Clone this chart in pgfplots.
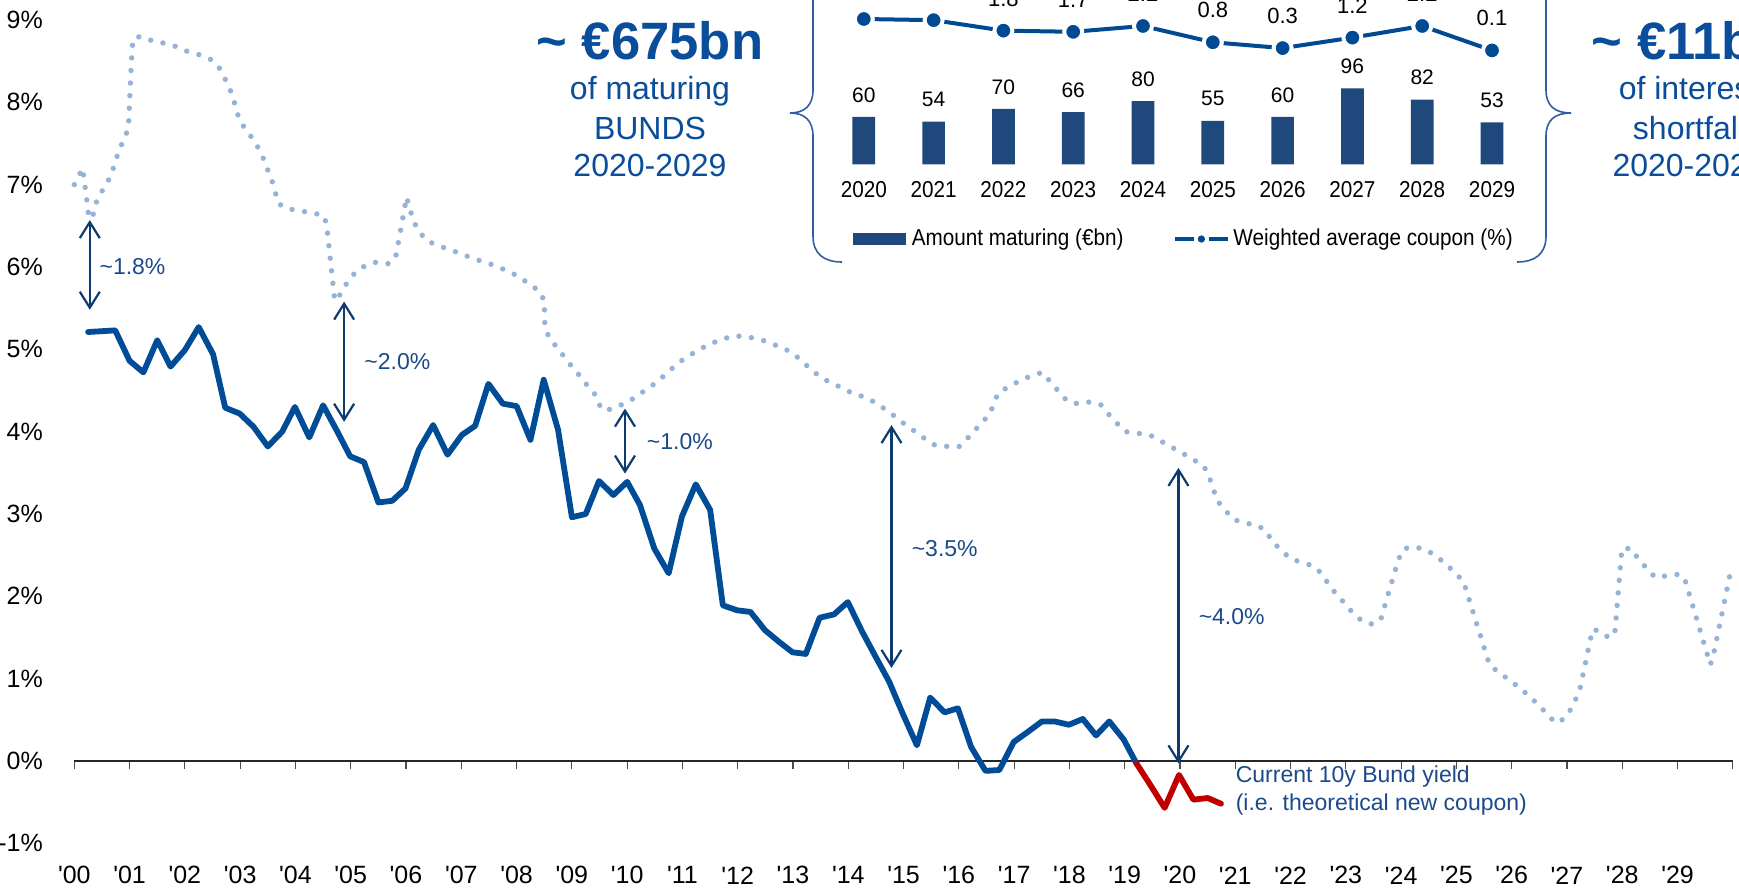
\documentclass[border=0pt]{standalone}
\usepackage{pgfplots}
\pgfplotsset{compat=1.18}
\usepackage{fontspec}
\setmainfont{Liberation Sans}
\newfontfamily\narrowfont[FakeStretch=0.9]{Liberation Sans}
\usetikzlibrary{arrows.meta}
\definecolor{bundblue}{HTML}{004C97}
\definecolor{bundred}{HTML}{C00000}
\definecolor{dotblue}{HTML}{95B3D7}
\definecolor{arrowblue}{HTML}{0D3B70}
\definecolor{annblue}{HTML}{1B4A8A}
\definecolor{bigblue}{HTML}{0A4D9B}
\definecolor{barblue}{HTML}{1F497D}
\definecolor{lineblue}{HTML}{004A93}
\definecolor{braceblue}{HTML}{2F5E9E}
\begin{document}
\begin{tikzpicture}
\path[use as bounding box] (0,0) rectangle (869.5pt,444.5pt);
\clip (0,0) rectangle (869.5pt,444.5pt);
% ---------------- main chart ----------------
\begin{axis}[
  at={(37.15pt,22.85pt)}, anchor=south west,
  scale only axis, width=829.35pt, height=411.65pt,
  xmin=2000, xmax=2030, ymin=-1, ymax=9,
  axis x line=middle, axis y line=left,
  hide obscured x ticks=false, hide obscured y ticks=false,
  x axis line style={-, black!85, line width=0.7pt},
  y axis line style={draw=none},
  tick align=outside, major tick length=4.2pt,
  xtick={2000,...,2030},
  xticklabels={\textquotesingle 00,\textquotesingle 01,\textquotesingle 02,\textquotesingle 03,\textquotesingle 04,\textquotesingle 05,\textquotesingle 06,\textquotesingle 07,\textquotesingle 08,\textquotesingle 09,\textquotesingle 10,\textquotesingle 11,\textquotesingle 12,\textquotesingle 13,\textquotesingle 14,\textquotesingle 15,\textquotesingle 16,\textquotesingle 17,\textquotesingle 18,\textquotesingle 19,\textquotesingle 20,\textquotesingle 21,\textquotesingle 22,\textquotesingle 23,\textquotesingle 24,\textquotesingle 25,\textquotesingle 26,\textquotesingle 27,\textquotesingle 28,\textquotesingle 29,{}},
  xtick style={black!70, line width=0.6pt},
  ytick={-1,0,1,2,3,4,5,6,7,8,9},
  yticklabels={-1\%,0\%,1\%,2\%,3\%,4\%,5\%,6\%,7\%,8\%,9\%},
  ytick style={draw=none},
  tick label style={font=\fontsize{12.5}{14}\selectfont, text=black},
  xticklabel style={anchor=center, yshift=-53pt},
  yticklabel style={anchor=east, xshift=-8pt},
  clip=false,
]
\addplot[dotblue, mark=none, line width=2.7pt, line cap=round, line join=round, dash pattern=on 0pt off 6.3pt] coordinates {
(2000.00,7.00) (2000.09,7.12) (2000.15,7.20) (2000.18,7.05) (2000.21,6.90) (2000.24,6.74) (2000.26,6.60) (2000.33,6.60)
(2000.37,6.74) (2000.46,6.88) (2000.59,7.01) (2000.68,7.15) (2000.75,7.29) (2000.81,7.43) (2000.92,7.57) (2000.98,7.71)
(2000.99,7.86) (2001.01,8.16) (2001.03,8.46) (2001.06,8.77) (2001.19,8.80) (2001.40,8.75) (2001.61,8.72) (2001.83,8.68)
(2002.04,8.62) (2002.25,8.58) (2002.47,8.52) (2002.62,8.42) (2002.73,8.28) (2002.82,8.15) (2002.89,8.01) (2002.95,7.86)
(2003.05,7.72) (2003.18,7.60) (2003.30,7.48) (2003.40,7.35) (2003.48,7.21) (2003.57,7.06) (2003.63,6.92) (2003.69,6.77)
(2003.85,6.71) (2004.08,6.68) (2004.30,6.66) (2004.52,6.62) (2004.57,6.48) (2004.71,5.59) (2004.84,5.69) (2004.94,5.82)
(2005.09,5.94) (2005.27,6.02) (2005.47,6.06) (2005.68,6.04) (2005.81,6.11) (2006.01,6.85) (2006.13,6.56) (2006.24,6.43)
(2006.37,6.32) (2006.58,6.26) (2006.79,6.21) (2007.00,6.16) (2007.22,6.10) (2007.42,6.06) (2007.63,6.01) (2007.84,5.95)
(2008.05,5.88) (2008.23,5.79) (2008.41,5.71) (2008.50,5.59) (2008.51,5.28) (2008.58,5.15) (2008.72,5.03) (2008.86,4.91)
(2009.00,4.79) (2009.14,4.68) (2009.28,4.56) (2009.42,4.45) (2009.51,4.31) (2009.60,4.25) (2009.80,4.30) (2010.02,4.36)
(2010.21,4.45) (2010.39,4.53) (2010.57,4.62) (2010.73,4.72) (2010.90,4.82) (2011.08,4.91) (2011.27,4.98) (2011.47,5.06)
(2011.68,5.11) (2011.89,5.16) (2012.11,5.16) (2012.33,5.13) (2012.55,5.09) (2012.75,5.03) (2012.96,4.97) (2013.14,4.87)
(2013.30,4.77) (2013.46,4.68) (2013.66,4.60) (2013.86,4.54) (2014.06,4.47) (2014.29,4.42) (2014.47,4.36) (2014.67,4.27)
(2014.85,4.18) (2015.04,4.08) (2015.21,4.00) (2015.39,3.91) (2015.58,3.83) (2015.81,3.82) (2016.01,3.82) (2016.17,3.93)
(2016.32,4.04) (2016.47,4.15) (2016.55,4.20) (2016.63,4.34) (2016.71,4.47) (2016.91,4.55) (2017.11,4.62) (2017.31,4.68)
(2017.51,4.72) (2017.66,4.60) (2017.80,4.49) (2017.96,4.37) (2018.14,4.34) (2018.36,4.36) (2018.56,4.33) (2018.71,4.21)
(2018.86,4.10) (2019.01,4.00) (2019.23,3.98) (2019.45,3.96) (2019.64,3.89) (2019.85,3.81) (2020.04,3.74) (2020.24,3.66)
(2020.43,3.58) (2020.52,3.46) (2020.60,3.31) (2020.66,3.17) (2020.80,3.06) (2020.95,2.94) (2021.15,2.89) (2021.37,2.87)
(2021.55,2.80) (2021.66,2.67) (2021.83,2.56) (2021.99,2.46) (2022.20,2.41) (2022.41,2.37) (2022.57,2.27) (2022.68,2.15)
(2022.82,2.03) (2022.97,1.92) (2023.12,1.80) (2023.29,1.70) (2023.48,1.66) (2023.63,1.72) (2023.76,2.02) (2023.95,2.45)
(2024.05,2.58) (2024.25,2.60) (2024.46,2.56) (2024.65,2.48) (2024.82,2.38) (2024.99,2.28) (2025.13,2.17) (2025.60,1.16)
(2025.78,1.07) (2025.96,0.98) (2026.14,0.89) (2026.31,0.79) (2026.50,0.67) (2026.70,0.52) (2026.83,0.46) (2026.95,0.52)
(2027.10,0.66) (2027.23,0.87) (2027.46,1.60) (2027.57,1.58) (2027.75,1.50) (2027.86,1.54) (2027.99,2.58) (2028.16,2.58)
(2028.29,2.45) (2028.44,2.34) (2028.59,2.23) (2028.81,2.25) (2029.04,2.27) (2029.14,2.18) (2029.59,1.17) (2029.65,1.30)
(2029.95,2.28)
};
\addplot[bundblue, mark=none, line width=2.9pt, line cap=round, line join=round] coordinates {
(2000.25,5.21) (2000.74,5.23) (2001.00,4.86) (2001.25,4.72) (2001.50,5.11) (2001.74,4.79) (2002.00,4.99) (2002.25,5.27)
(2002.51,4.94) (2002.73,4.29) (2002.99,4.22) (2003.24,4.06) (2003.50,3.82) (2003.76,4.00) (2003.99,4.30) (2004.25,3.93)
(2004.50,4.32) (2004.75,4.01) (2004.99,3.70) (2005.24,3.63) (2005.50,3.14) (2005.75,3.16) (2005.99,3.31) (2006.23,3.78)
(2006.49,4.08) (2006.75,3.72) (2007.01,3.96) (2007.25,4.07) (2007.49,4.58) (2007.75,4.34) (2008.00,4.31) (2008.25,3.90)
(2008.49,4.63) (2008.75,4.02) (2009.00,2.96) (2009.25,3.00) (2009.49,3.40) (2009.75,3.23) (2010.00,3.39) (2010.23,3.11)
(2010.49,2.58) (2010.75,2.28) (2010.99,2.97) (2011.24,3.36) (2011.50,3.05) (2011.73,1.89) (2011.99,1.83) (2012.23,1.81)
(2012.49,1.59) (2012.74,1.45) (2012.99,1.32) (2013.23,1.30) (2013.48,1.74) (2013.74,1.78) (2013.99,1.93) (2014.25,1.57)
(2014.49,1.27) (2014.74,0.96) (2014.98,0.58) (2015.24,0.19) (2015.48,0.77) (2015.74,0.59) (2015.98,0.64) (2016.22,0.17)
(2016.48,-0.12) (2016.73,-0.11) (2016.99,0.23) (2017.24,0.35) (2017.50,0.48) (2017.73,0.48) (2017.99,0.44) (2018.24,0.51)
(2018.48,0.31) (2018.72,0.48) (2018.98,0.26) (2019.21,-0.03)
};
\addplot[bundred, mark=none, line width=2.9pt, line cap=round, line join=round] coordinates {
(2019.21,-0.03) (2019.47,-0.30) (2019.72,-0.57) (2019.98,-0.17) (2020.24,-0.47) (2020.50,-0.45) (2020.74,-0.52)
};
% annotations
\tikzset{gap/.style={arrowblue, line width=1.1pt, {Straight Barb[length=8pt,width=10pt,line width=1.1pt]}-{Straight Barb[length=8pt,width=10pt,line width=1.1pt]}},
         gaplabel/.style={anchor=west, inner sep=0pt, text=annblue, font=\fontsize{11.5}{13}\selectfont}}
\draw[gap] (axis cs:2000.28,6.57) -- (axis cs:2000.28,5.48);
\node[gaplabel] at (axis cs:2000.45,6.0) {\textasciitilde1.8\%};
\draw[gap] (axis cs:2004.88,5.58) -- (axis cs:2004.88,4.12);
\node[gaplabel] at (axis cs:2005.24,4.85) {\textasciitilde2.0\%};
\draw[gap] (axis cs:2009.96,4.28) -- (axis cs:2009.96,3.49);
\node[gaplabel] at (axis cs:2010.35,3.88) {\textasciitilde1.0\%};
\draw[gap] (axis cs:2014.78,4.08) -- (axis cs:2014.78,1.13);
\node[gaplabel] at (axis cs:2015.14,2.58) {\textasciitilde3.5\%};
\draw[gap] (axis cs:2019.97,3.56) -- (axis cs:2019.97,-0.03);
\node[gaplabel] at (axis cs:2020.33,1.75) {\textasciitilde4.0\%};
\node[gaplabel] at (axis cs:2021.0,-0.19) {Current 10y Bund yield};
\node[gaplabel] at (axis cs:2021.0,-0.53) {(i.e. theoretical new coupon)};
\end{axis}
% ---------------- inset: amounts maturing ----------------
\begin{axis}[
  at={(414.45pt,362.35pt)}, anchor=south west,
  scale only axis, width=349pt, height=39.5pt,
  xmin=2019.5, xmax=2029.5, ymin=0, ymax=100,
  axis line style={draw=none}, major tick style={draw=none},
  ytick=\empty, xtick={2020,2021,2022,2023,2024,2025,2026,2027,2028,2029},
  xticklabels={2020,2021,2022,2023,2024,2025,2026,2027,2028,2029},
  xticklabel style={anchor=center, yshift=-12.85pt, font=\narrowfont\fontsize{11.5}{13}\selectfont, text=black},
  clip=false,
  legend columns=2,
  legend cell align=left,
  legend style={draw=none, fill=none, at={(0.0345,-0.946)}, anchor=west, inner sep=0pt,
    /tikz/every even column/.append style={column sep=24.5pt},
    nodes={inner sep=0pt, font=\narrowfont\fontsize{11.5}{13}\selectfont, text=black}},
]
\addplot[ybar, bar width=11.35pt, fill=barblue, draw=none,
  nodes near coords, nodes near coords style={anchor=center, yshift=11pt, font=\fontsize{10.5}{12}\selectfont, text=black,
  /pgf/number format/assume math mode=true},
  legend image code/.code={\fill[barblue] (0pt,-3pt) rectangle (26.5pt,3pt); \path (29.25pt,0pt);}]
  coordinates {(2020,60) (2021,54) (2022,70) (2023,66) (2024,80) (2025,55) (2026,60) (2027,96) (2028,82) (2029,53)};
\addlegendentry{Amount maturing (€bn)}
\addlegendimage{legend image code/.code={\draw[lineblue, line width=2pt] (0pt,0pt) -- (9.75pt,0pt); \draw[lineblue, line width=2pt] (17pt,0pt) -- (26.5pt,0pt); \fill[lineblue] (13.4pt,0pt) circle (1.6pt); \path (29.25pt,0pt);}}
\addlegendentry{Weighted average coupon (\%)}
\end{axis}
% ---------------- inset: weighted average coupon ----------------
\begin{axis}[
  at={(414.45pt,418.7pt)}, anchor=south west,
  scale only axis, width=349pt, height=17.46pt,
  xmin=2019.5, xmax=2029.5, ymin=0, ymax=3,
  hide axis, clip=false,
]
\addplot[lineblue, line width=2pt, mark=*, mark size=4.5pt, mark options={fill=lineblue, draw=white, line width=2pt},
  nodes near coords, nodes near coords style={anchor=center, yshift=16pt, font=\fontsize{11}{12}\selectfont, text=black,
  /pgf/number format/assume math mode=true,
  /pgf/number format/fixed, /pgf/number format/fixed zerofill, /pgf/number format/precision=1}]
  coordinates {(2020,2.8) (2021,2.7) (2022,1.8) (2023,1.7) (2024,2.2) (2025,0.8) (2026,0.3) (2027,1.2) (2028,2.2) (2029,0.1)};
\end{axis}
% ---------------- braces and headline texts ----------------
\begin{scope}[yshift=444.5pt, x=0.5pt, y=-0.5pt]
\draw[braceblue, line width=0.8pt] (813,-10) -- (813,90) .. controls (813,106) and (804,113) .. (790,113)
   .. controls (804,113) and (813,120) .. (813,136) -- (813,236) .. controls (813,254) and (824,262) .. (842,262);
\draw[braceblue, line width=0.8pt] (1546,-10) -- (1546,90) .. controls (1546,106) and (1555,113) .. (1571,113)
   .. controls (1555,113) and (1546,120) .. (1546,136) -- (1546,236) .. controls (1546,254) and (1535,262) .. (1517,262);
\tikzset{big/.style={anchor=base, inner sep=0pt, text=bigblue, font=\bfseries\fontsize{26.3}{30}\selectfont},
         sub/.style={anchor=base, inner sep=0pt, text=bigblue, font=\fontsize{16}{19}\selectfont}}
\node[big] at (650,60) {\textasciitilde{} €675bn};
\node[sub] at (650,100) {of maturing};
\node[sub] at (650,140) {BUNDS};
\node[sub] at (650,176.7) {2020-2029};
\node[big] at (1689,60) {\textasciitilde{} €11bn};
\node[sub] at (1689,100) {of interest};
\node[sub] at (1689,140) {shortfall};
\node[sub] at (1689,176.7) {2020-2029};
\end{scope}
\end{tikzpicture}
\end{document}
